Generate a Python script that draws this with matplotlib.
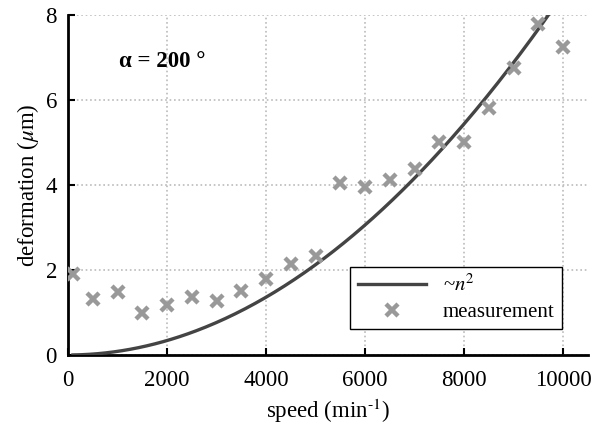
import matplotlib
matplotlib.use("Agg")
import matplotlib.pyplot as plt
import numpy as np

plt.rcParams['font.family'] = ['Liberation Serif', 'DejaVu Serif']
plt.rcParams['mathtext.fontset'] = 'stix'

# measured deformation at each spindle speed
speed = [100, 500, 1000, 1500, 2000, 2500, 3000, 3500, 4000, 4500, 5000,
         5500, 6000, 6500, 7000, 7500, 8000, 8500, 9000, 9500, 10000]
deformation = [1.90, 1.32, 1.48, 0.99, 1.18, 1.37, 1.27, 1.51, 1.79, 2.14, 2.33,
               4.05, 3.95, 4.12, 4.38, 5.01, 5.01, 5.80, 6.75, 7.79, 7.25]

# quadratic fit coefficient (um per (1/min)^2)
k_fit = 8.5e-8
fit_speed = np.linspace(100, 10000, 300)
fit_def = k_fit * fit_speed ** 2

xticks = [0, 2000, 4000, 6000, 8000, 10000]
yticks = [0, 2, 4, 6, 8]

fig = plt.figure(figsize=(5.99, 4.28), dpi=100)
ax = fig.add_axes([0.1135, 0.1706, 0.8681, 0.7944])

ax.plot(fit_speed, fit_def, color='#444444', lw=2.4, label=r'~$n^2$', zorder=3)
ax.plot(speed, deformation, ls='none', marker='x', ms=9, mew=3.2,
        color='#999999', label='measurement', zorder=4)

ax.set_xlim(0, 10500)
ax.set_ylim(0, 8)
ax.set_xticks(xticks)
ax.set_yticks(yticks)
ax.tick_params(direction='in', length=5, width=1.5, labelsize=16.5)
ax.tick_params(axis='x', pad=11)
ax.tick_params(axis='y', pad=8)

for side in ('top', 'right'):
    ax.spines[side].set_visible(False)
for side in ('left', 'bottom'):
    ax.spines[side].set_linewidth(2)

ax.grid(True, color='#bbbbbb', ls=':', lw=1.2)
ax.set_axisbelow(True)

ax.set_xlabel(r'speed (min$^{\text{-1}}$)', fontsize=16.5, labelpad=4)
ax.set_ylabel(r'deformation ($\mu$m)', fontsize=16.5, labelpad=3)

ax.text(1030, 6.9, 'α = 200 °', fontsize=16.5, fontweight='bold', va='center')

leg = ax.legend(loc='lower right', bbox_to_anchor=(0.95, 0.076), borderaxespad=0,
                fancybox=False, framealpha=1, edgecolor='black', fontsize=15,
                handlelength=3.3, borderpad=0.35, labelspacing=0.3)
leg.get_frame().set_linewidth(1.0)

fig.savefig('out.png', dpi=100)
